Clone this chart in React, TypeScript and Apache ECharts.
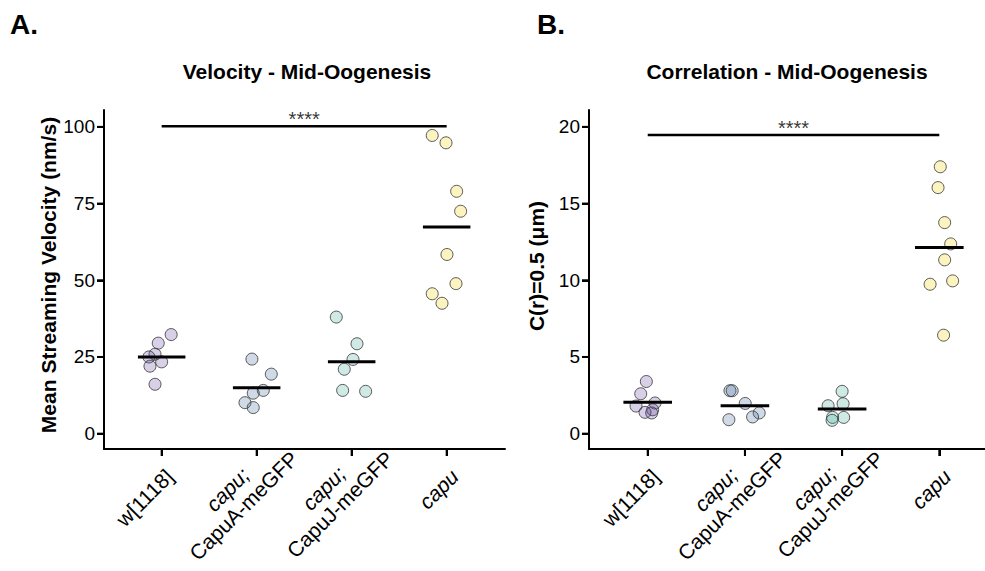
import React, { useEffect, useRef } from 'react';
import * as echarts from 'echarts';

// Category labels (line 1 genotype, line 2 transgene)
const catLine1 = ['w[1118]', 'capu;', 'capu;', 'capu'];
const catLine2 = ['', 'CapuA-meGFP', 'CapuJ-meGFP', ''];
const catItalic = [false, true, true, true];
const catPositions = [0, 1, 2, 3];

// Panel A: Mean streaming velocity (nm/s)
const velW1118 = [32.3, 29.5, 25.9, 25.0, 23.4, 22.0, 16.1];
const velCapuA = [24.3, 19.4, 14.1, 13.2, 10.1, 8.5];
const velCapuJ = [38.0, 29.3, 24.2, 21.0, 14.1, 13.8];
const velCapu = [97.2, 94.8, 79.0, 72.5, 58.4, 48.9, 45.6, 42.5];
const velMeans = [25.0, 15.0, 23.4, 67.4];
const velSig = 100.2;
const velTicks = [0, 25, 50, 75, 100];

// Panel B: C(r)=0.5 (µm)
const corW1118 = [3.4, 2.6, 2.0, 1.8, 1.56, 1.39, 1.35];
const corCapuA = [2.8, 2.8, 1.97, 1.35, 1.09, 0.91];
const corCapuJ = [2.76, 1.95, 1.82, 1.06, 1.06, 0.87];
const corCapu = [17.4, 16.04, 13.76, 12.37, 11.33, 9.74, 9.96, 6.42];
const corMeans = [2.04, 1.82, 1.61, 12.13];
const corSig = 19.47;
const corTicks = [0, 5, 10, 15, 20];

// Horizontal scatter jitter (category units)
const jitVelW1118 = [0.1, -0.036, -0.07, -0.134, 0, -0.123, -0.07];
const jitVelCapuA = [-0.05, 0.154, 0.07, -0.036, -0.123, -0.036];
const jitVelCapuJ = [-0.162, 0.056, 0.014, -0.078, -0.095, 0.147];
const jitVelCapu = [-0.152, -0.007, 0.105, 0.147, 0.003, 0.098, -0.152, -0.049];
const jitCorW1118 = [-0.014, -0.072, 0.075, -0.12, 0.051, -0.028, 0.041];
const jitCorCapuA = [-0.154, -0.131, 0.003, 0.147, 0.079, -0.165];
const jitCorCapuJ = [0, 0.01, -0.144, 0.016, -0.098, -0.103];
const jitCorCapu = [0.01, -0.013, 0.055, 0.117, 0.055, -0.095, 0.137, 0.044];

const groupColors = [
  'rgba(90,60,150,0.30)',
  'rgba(60,100,150,0.30)',
  'rgba(40,160,140,0.28)',
  'rgba(245,220,60,0.40)',
];

const FONT = "'Liberation Sans', Arial, Helvetica, sans-serif";
const X_MIN = [-0.607, -0.604];
const X_MAX = [3.614, 3.47];
const Y_MIN = [-5, -1];
const Y_MAX = [105.5, 21.1];
const TICK_LEN = 7;

function buildGrid(idx: number, groups: number[][], jitters: number[][], means: number[], sig: number) {
  const series: any[] = [];
  groups.forEach((vals, g) => {
    series.push({
      type: 'scatter',
      xAxisIndex: idx,
      yAxisIndex: idx,
      symbol: 'circle',
      symbolSize: 12,
      itemStyle: { color: groupColors[g], borderColor: '#333', borderWidth: 1 },
      data: vals.map((v, k) => [g + jitters[g][k], v]),
      z: 2,
    });
  });
  // mean bars
  series.push({
    type: 'custom',
    xAxisIndex: idx,
    yAxisIndex: idx,
    data: means.map((m, i) => [i, m]),
    renderItem: (params: any, api: any) => {
      const x = api.value(0);
      const y = api.value(1);
      const p1 = api.coord([x - 0.25, y]);
      const p2 = api.coord([x + 0.25, y]);
      return {
        type: 'line',
        shape: { x1: p1[0], y1: p1[1], x2: p2[0], y2: p2[1] },
        style: { stroke: '#000', lineWidth: 3 },
      };
    },
    z: 5,
  });
  // significance bar
  series.push({
    type: 'line',
    xAxisIndex: idx,
    yAxisIndex: idx,
    symbol: 'none',
    lineStyle: { color: '#000', width: 2.5 },
    data: [
      [0, sig],
      [3, sig],
    ],
    z: 4,
  });
  series.push({
    type: 'scatter',
    xAxisIndex: idx,
    yAxisIndex: idx,
    symbolSize: 0,
    data: [[1.5, sig]],
    label: {
      show: true,
      position: 'top',
      distance: -3,
      formatter: '****',
      fontFamily: FONT,
      fontSize: 20,
      color: '#000',
    },
  });
  return series;
}

function axisX(idx: number) {
  return {
    type: 'value',
    gridIndex: idx,
    min: X_MIN[idx],
    max: X_MAX[idx],
    splitLine: { show: false },
    axisLine: { show: true, onZero: false, lineStyle: { color: '#000', width: 2 } },
    axisTick: { show: true, customValues: catPositions, length: TICK_LEN, lineStyle: { color: '#000', width: 2 } },
    axisLabel: { show: false },
  };
}

function axisY(idx: number, ticks: number[]) {
  return {
    type: 'value',
    gridIndex: idx,
    min: Y_MIN[idx],
    max: Y_MAX[idx],
    splitLine: { show: false },
    axisLine: { show: true, onZero: false, lineStyle: { color: '#000', width: 2 } },
    axisTick: { show: true, customValues: ticks, length: TICK_LEN, lineStyle: { color: '#000', width: 2 } },
    axisLabel: {
      show: true,
      customValues: ticks,
      margin: 9,
      color: '#000',
      fontFamily: FONT,
      fontSize: 19,
    },
  };
}

export default function App() {
  const ref = useRef<HTMLDivElement>(null);
  useEffect(() => {
    if (!ref.current) return;
    const chart = echarts.init(ref.current, undefined, { renderer: 'svg' });
    const staticGraphic: any[] = [
      { type: 'text', left: 10, top: 10, style: { text: 'A.', font: `bold 28px ${FONT}`, fill: '#000' } },
      { type: 'text', left: 537, top: 10, style: { text: 'B.', font: `bold 28px ${FONT}`, fill: '#000' } },
      {
        type: 'text', x: 307, y: 71,
        style: { text: 'Velocity - Mid-Oogenesis', font: `bold 21px ${FONT}`, fill: '#000', align: 'center', verticalAlign: 'middle' },
      },
      {
        type: 'text', x: 787, y: 71,
        style: { text: 'Correlation - Mid-Oogenesis', font: `bold 21px ${FONT}`, fill: '#000', align: 'center', verticalAlign: 'middle' },
      },
      {
        type: 'text', x: 48, y: 275, rotation: Math.PI / 2,
        style: { text: 'Mean Streaming Velocity (nm/s)', font: `bold 21px ${FONT}`, fill: '#000', align: 'center', verticalAlign: 'middle' },
      },
      {
        type: 'text', x: 536, y: 266, rotation: Math.PI / 2,
        style: { text: 'C(r)=0.5 (μm)', font: `bold 21px ${FONT}`, fill: '#000', align: 'center', verticalAlign: 'middle' },
      },
    ];
    const option: any = {
      animation: false,
      backgroundColor: '#fff',
      grid: [
        { left: 104, right: 480, top: 110, bottom: 122 },
        { left: 589, right: 0, top: 110, bottom: 122 },
      ],
      xAxis: [axisX(0), axisX(1)],
      yAxis: [axisY(0, velTicks), axisY(1, corTicks)],
      series: [
        ...buildGrid(0, [velW1118, velCapuA, velCapuJ, velCapu], [jitVelW1118, jitVelCapuA, jitVelCapuJ, jitVelCapu], velMeans, velSig),
        ...buildGrid(1, [corW1118, corCapuA, corCapuJ, corCapu], [jitCorW1118, jitCorCapuA, jitCorCapuJ, jitCorCapu], corMeans, corSig),
      ],
      graphic: staticGraphic,
    };
    chart.setOption(option);

    const yTicksByGrid = [velTicks, corTicks];
    const extra: any[] = [];
    const base = { fontFamily: FONT, fontSize: 21, fill: '#000', lineHeight: 23 };
    const c = Math.SQRT1_2;
    [0, 1].forEach((g) => {
      const finder = { xAxisIndex: g, yAxisIndex: g };
      // x ticks (as thin filled rects) and rotated category labels
      catLine1.forEach((l1, i) => {
        const p = chart.convertToPixel(finder, [catPositions[i], Y_MIN[g]]) as number[];
        extra.push({
          type: 'rect',
          z: 100,
          shape: { x: p[0] - 1, y: p[1], width: 2, height: TICK_LEN },
          style: { fill: '#000' },
        });
        const two = !!catLine2[i];
        const along = two ? 22.5 : -11.3;
        const perp = two ? 19.5 : 22.5;
        const first = catItalic[i] ? `{i|${l1}}` : `{n|${l1}}`;
        const text = two ? `${first}\n{n|${catLine2[i]}}` : first;
        extra.push({
          type: 'text',
          x: p[0] + (along + perp) * c,
          y: p[1] + (perp - along) * c,
          rotation: Math.PI / 4,
          style: {
            text,
            align: 'right',
            verticalAlign: 'middle',
            ...base,
            rich: {
              i: { ...base, fontStyle: 'italic', align: 'center' },
              n: { ...base, align: 'center' },
            },
          },
        });
      });
      // y ticks
      yTicksByGrid[g].forEach((t) => {
        const p = chart.convertToPixel(finder, [X_MIN[g], t]) as number[];
        extra.push({
          type: 'rect',
          z: 100,
          shape: { x: p[0] - TICK_LEN, y: p[1] - 1, width: TICK_LEN, height: 2 },
          style: { fill: '#000' },
        });
      });
    });
    chart.setOption({ graphic: [...staticGraphic, ...extra] });
    return () => chart.dispose();
  }, []);
  return <div ref={ref} style={{ position: 'fixed', left: 0, top: 0, width: 985, height: 571 }} />;
}
